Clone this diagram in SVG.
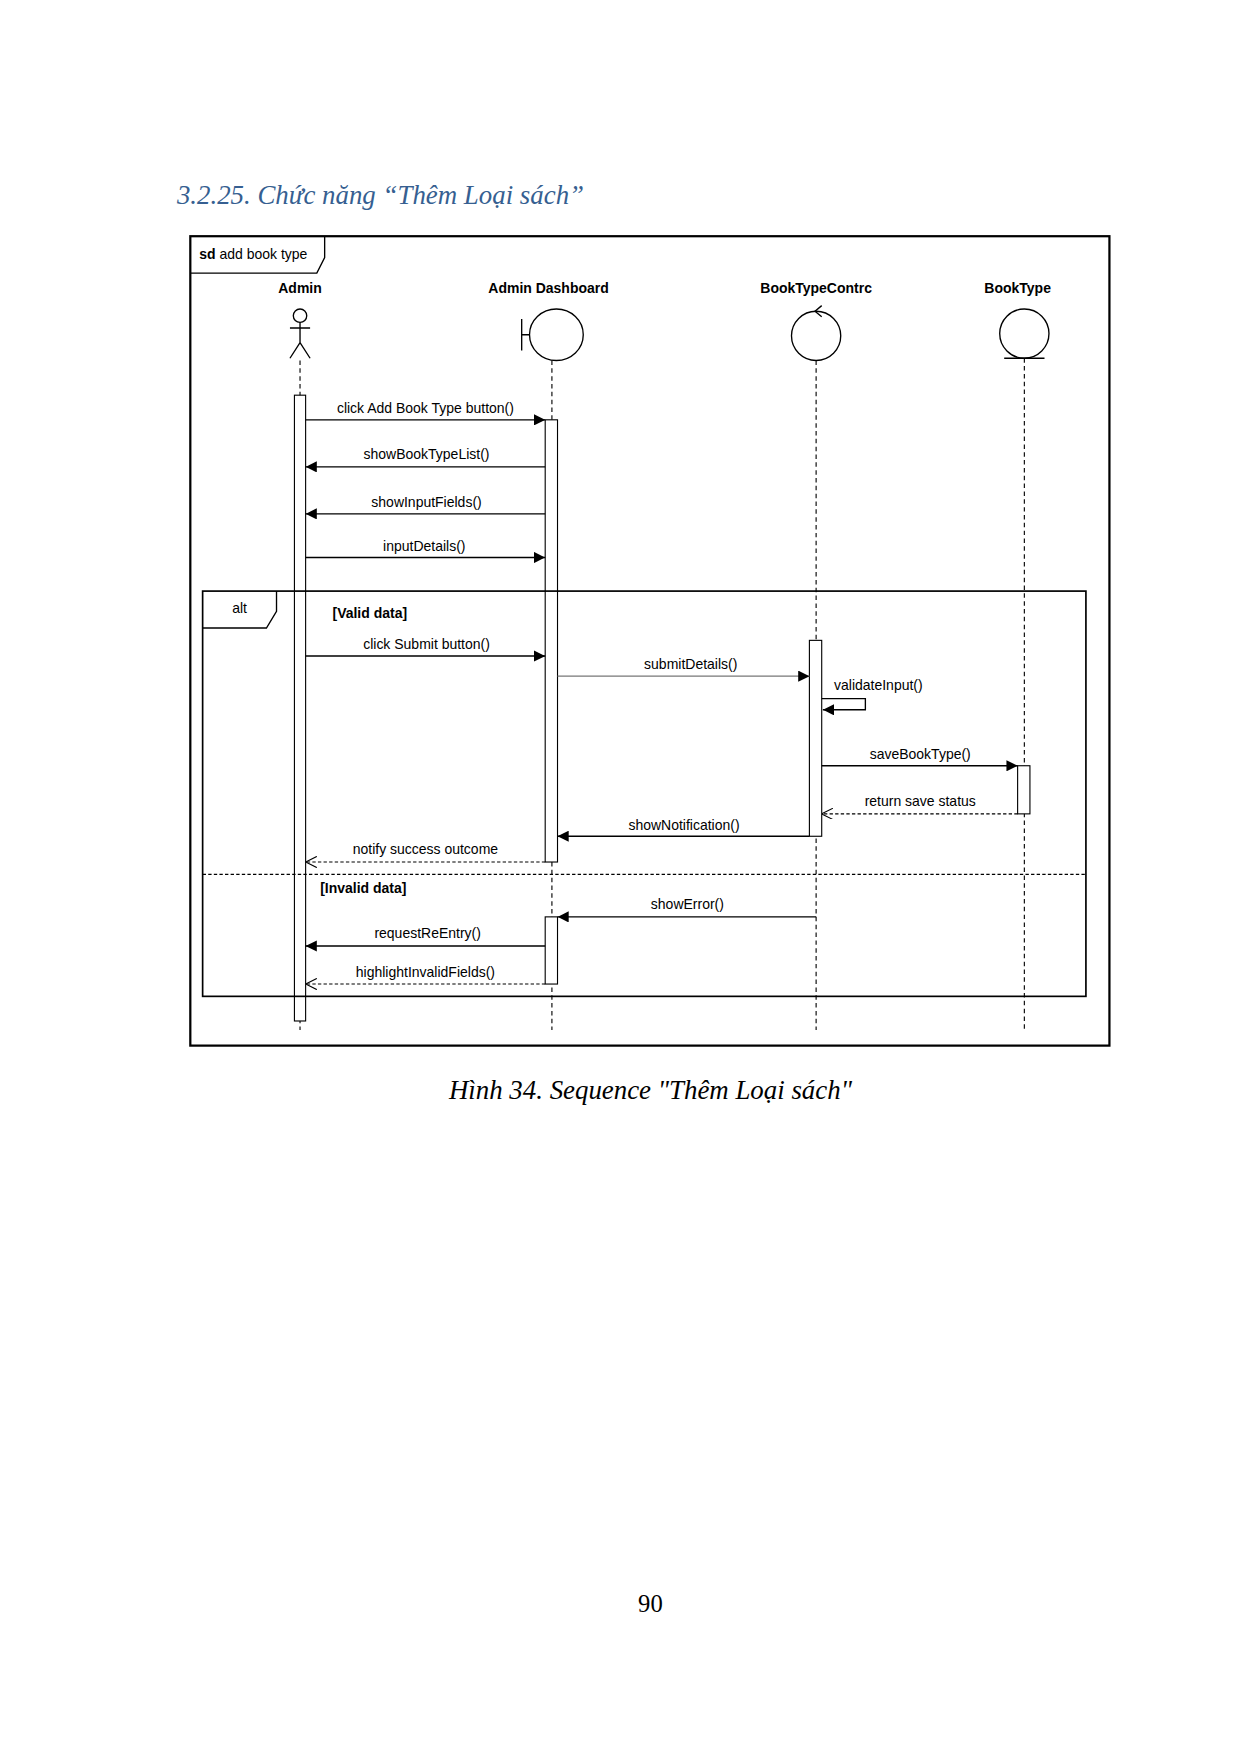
<svg xmlns="http://www.w3.org/2000/svg" width="1240" height="1754" viewBox="0 0 1240 1754">
<defs>
<marker id="fill" viewBox="0 0 10 10" refX="10" refY="5" markerWidth="10" markerHeight="10" orient="auto" markerUnits="userSpaceOnUse"><path d="M0,0 L10,5 L0,10 z" fill="#000"/></marker>
<marker id="open" viewBox="0 0 10 10" refX="10" refY="5" markerWidth="10" markerHeight="10" orient="auto" markerUnits="userSpaceOnUse"><path d="M0,0 L10,5 L0,10" fill="none" stroke="#000" stroke-width="1"/></marker>
</defs>
<style>
text{font-family:"Liberation Sans",Arial,sans-serif;font-size:12.5px;fill:#000}
.b{font-weight:bold}
.c{text-anchor:middle}
.ser{font-family:"Liberation Serif","Times New Roman",serif;font-style:italic;font-size:24px}
.ll{stroke:#000;stroke-width:1;stroke-dasharray:4,3;fill:none}
.act{fill:#fff;stroke:#000;stroke-width:1}
.msg{stroke:#000;stroke-width:1.2;fill:none;marker-end:url(#fill)}
.ret{stroke:#000;stroke-width:1;stroke-dasharray:3,2;fill:none;marker-end:url(#open)}
.sh{fill:none;stroke:#000;stroke-width:1.2}
</style>
<rect width="1240" height="1754" fill="#fff"/>
<g transform="scale(1.1195)">
<text class="ser" x="158" y="182" style="fill:#365f91">3.2.25. Chức năng “Thêm Loại sách”</text>
<g id="frame">
<rect x="170" y="211" width="821" height="723" fill="none" stroke="#000" stroke-width="2"/>
<path d="M170,244 L283,244 L290,230 L290,211" class="sh"/>
<text x="178" y="231"><tspan class="b">sd</tspan> add book type</text>
</g>
<g id="lifelines">
<line class="ll" x1="268" y1="322" x2="268" y2="920"/>
<line class="ll" x1="493" y1="322" x2="493" y2="920"/>
<line class="ll" x1="729" y1="322" x2="729" y2="920"/>
<line class="ll" x1="915" y1="320" x2="915" y2="920"/>
</g>
<g id="admin">
<text class="b c" x="268" y="262">Admin</text>
<circle cx="268" cy="282" r="6" class="sh"/>
<path d="M268,288 L268,306 M259,293 L277,293 M268,306 L259,320 M268,306 L277,320" class="sh"/>
</g>
<g id="dashboard">
<text class="b c" x="490" y="262">Admin Dashboard</text>
<ellipse cx="497" cy="299" rx="24" ry="23" class="sh"/>
<path d="M466,285 L466,313 M466,299 L473,299" class="sh"/>
</g>
<g id="controller">
<text class="b c" x="729" y="262">BookTypeContrc</text>
<circle cx="729" cy="300" r="22" class="sh"/>
<path d="M734,283 L728,278 L734,273" class="sh"/>
</g>
<g id="booktype">
<text class="b c" x="909" y="262">BookType</text>
<circle cx="915" cy="298" r="22" class="sh"/>
<line x1="897" y1="320" x2="933" y2="320" class="sh"/>
</g>
<g id="activations">
<rect class="act" x="263" y="353" width="10" height="559"/>
<rect class="act" x="487" y="375" width="11" height="395"/>
<rect class="act" x="487" y="819" width="11" height="60"/>
<rect class="act" x="723" y="572" width="11" height="175"/>
<rect class="act" x="909" y="684" width="11" height="43"/>
</g>
<g id="alt">
<rect x="181" y="528" width="789" height="362" fill="none" stroke="#000" stroke-width="1.5"/>
<path d="M181,561 L238,561 L247,546 L247,528" class="sh"/>
<text class="c" x="214" y="548">alt</text>
<line x1="181" y1="781" x2="970" y2="781" stroke="#000" stroke-width="1.2" stroke-dasharray="3,2"/>
<text class="b" x="297" y="552">[Valid data]</text>
<text class="b" x="286" y="798">[Invalid data]</text>
</g>
<g id="connectors">
<line class="msg" x1="273" y1="375" x2="487" y2="375"/>
<text class="c" x="380" y="369">click Add Book Type button()</text>
<line class="msg" x1="487" y1="417" x2="273" y2="417"/>
<text class="c" x="381" y="410">showBookTypeList()</text>
<line class="msg" x1="487" y1="459" x2="273" y2="459"/>
<text class="c" x="381" y="453">showInputFields()</text>
<line class="msg" x1="273" y1="498" x2="487" y2="498"/>
<text class="c" x="379" y="492">inputDetails()</text>
<line class="msg" x1="273" y1="586" x2="487" y2="586"/>
<text class="c" x="381" y="580">click Submit button()</text>
<line class="msg" x1="498" y1="604" x2="723" y2="604" style="stroke:#777"/>
<text class="c" x="617" y="598">submitDetails()</text>
<path class="msg" d="M734,624 L773,624 L773,634 L735,634"/>
<text x="745" y="616">validateInput()</text>
<line class="msg" x1="734" y1="684" x2="909" y2="684"/>
<text class="c" x="822" y="678">saveBookType()</text>
<line class="ret" x1="909" y1="727" x2="734" y2="727"/>
<text class="c" x="822" y="720">return save status</text>
<line class="msg" x1="723" y1="747" x2="498" y2="747"/>
<text class="c" x="611" y="741">showNotification()</text>
<line class="ret" x1="487" y1="770" x2="273" y2="770"/>
<text class="c" x="380" y="763">notify success outcome</text>
<line class="msg" x1="729" y1="819" x2="498" y2="819"/>
<text class="c" x="614" y="812">showError()</text>
<line class="msg" x1="487" y1="845" x2="273" y2="845"/>
<text class="c" x="382" y="838">requestReEntry()</text>
<line class="ret" x1="487" y1="879" x2="273" y2="879"/>
<text class="c" x="380" y="873">highlightInvalidFields()</text>
</g>
<text class="ser c" x="581" y="982">Hình 34. Sequence "Thêm Loại sách"</text>
<text class="c" x="581" y="1440" style="font-family:'Liberation Serif',serif;font-size:22px">90</text>
</g>
</svg>
